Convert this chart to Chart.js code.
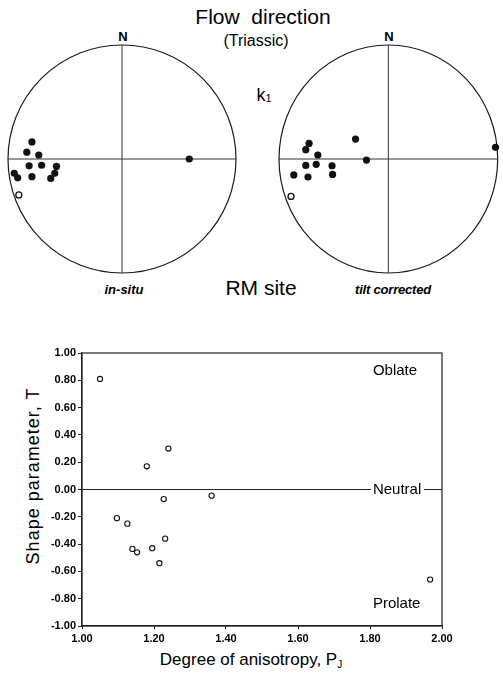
<!DOCTYPE html>
<html>
<head>
<meta charset="utf-8">
<script src="https://cdn.jsdelivr.net/npm/chart.js@4.4.1/dist/chart.umd.min.js"></script>
<style>
    body { margin: 0; background: #fff; width: 503px; height: 675px; position: relative; overflow: hidden;
           font-family: "Liberation Sans", Arial, sans-serif; color: #000; }
    .lbl { position: absolute; transform: translate(-50%, -50%); white-space: pre; line-height: 1; }
    canvas { position: absolute; }
</style>
</head>
<body>
<div class="lbl" style="left:263px; top:16px; font-size:21px;">Flow  direction</div>
<div class="lbl" style="left:256px; top:41px; font-size:16px;">(Triassic)</div>
<div class="lbl" style="left:123px; top:36px; font-size:13px; font-weight:bold;">N</div>
<div class="lbl" style="left:389px; top:36px; font-size:13px; font-weight:bold;">N</div>
<div class="lbl" style="left:264px; top:95px; font-size:18px;">k<span style="font-size:11px; vertical-align:-1px;">1</span></div>
<div class="lbl" style="left:261px; top:287px; font-size:21px;">RM site</div>
<div class="lbl" style="left:124px; top:289px; font-size:13px; font-weight:bold; font-style:italic;">in-situ</div>
<div class="lbl" style="left:393px; top:289px; font-size:13px; font-weight:bold; font-style:italic; letter-spacing:-0.2px;">tilt corrected</div>
<div class="lbl" style="left:33px; top:476px; font-size:18px; letter-spacing:1px; transform:translate(-50%, -50%) rotate(-90deg);">Shape parameter, T</div>
<div class="lbl" style="left:251px; top:660px; font-size:17px;">Degree of anisotropy, P<span style="font-size:10px; vertical-align:-3px;">J</span></div>

<canvas id="netInSitu" width="241" height="240" style="left:2px; top:39px;"></canvas>
<canvas id="netTilt" width="231" height="240" style="left:272px; top:39px;"></canvas>
<canvas id="shapeChart" width="503" height="310" style="left:0; top:340px;"></canvas>

<script>
// k1 directions, projected onto the unit stereonet (x = east, y = north)
const inSituX = [-0.79, -0.835, -0.73, -0.815, -0.705, -0.575, -0.59, -0.625, -0.79, -0.945, -0.915, 0.59];
const inSituY = [0.15, 0.06, 0.035, -0.06, -0.055, -0.065, -0.125, -0.17, -0.155, -0.125, -0.165, 0.0];
const inSituOpenX = [-0.905];
const inSituOpenY = [-0.315];

const tiltX = [-0.725, -0.755, -0.645, -0.30, -0.20, 0.98, -0.755, -0.66, -0.515, -0.51, -0.865, -0.735];
const tiltY = [0.137, 0.082, 0.035, 0.175, -0.009, 0.102, -0.056, -0.047, -0.059, -0.135, -0.14, -0.158];
const tiltOpenX = [-0.89];
const tiltOpenY = [-0.328];

// shape parameter T against degree of anisotropy Pj
const anisotropyPj = [1.05, 1.24, 1.18, 1.227, 1.36, 1.097, 1.126, 1.231, 1.14, 1.153, 1.195, 1.215, 1.967];
const shapeT = [0.81, 0.30, 0.17, -0.07, -0.045, -0.21, -0.25, -0.36, -0.435, -0.46, -0.43, -0.54, -0.66];

const xTicks = [1.0, 1.2, 1.4, 1.6, 1.8, 2.0];
const yTicks = [-1.0, -0.8, -0.6, -0.4, -0.2, 0.0, 0.2, 0.4, 0.6, 0.8, 1.0];

const zoneLabels = ['Oblate', 'Neutral', 'Prolate'];
const zoneT = [0.87, 0.0, -0.84];
const zoneLabelPj = 1.808;

const fontFamily = '"Liberation Sans", Arial, sans-serif';

function toPoints(xs, ys) {
    return xs.map((v, i) => ({ x: v, y: ys[i] }));
}

// circle and cross of the stereonet, placed through the chart scales
const netFrame = {
    id: 'netFrame',
    beforeDatasetsDraw(chart) {
        const { ctx, scales: { x, y } } = chart;
        const cx = x.getPixelForValue(0);
        const cy = y.getPixelForValue(0);
        const rx = x.getPixelForValue(1) - cx;
        const ry = cy - y.getPixelForValue(1);
        ctx.save();
        ctx.strokeStyle = '#1a1a1a';
        ctx.lineWidth = 1.2;
        ctx.beginPath();
        ctx.ellipse(cx, cy, rx, ry, 0, 0, Math.PI * 2);
        ctx.stroke();
        ctx.strokeStyle = '#333';
        ctx.lineWidth = 1;
        ctx.beginPath();
        ctx.moveTo(cx - rx, cy);
        ctx.lineTo(cx + rx, cy);
        ctx.moveTo(cx, cy - ry);
        ctx.lineTo(cx, cy + ry);
        ctx.stroke();
        ctx.restore();
    }
};

function makeNet(id, xs, ys, openXs, openYs, padding) {
    return new Chart(document.getElementById(id), {
        type: 'scatter',
        data: {
            datasets: [{
                data: toPoints(xs, ys),
                pointRadius: 3.6,
                backgroundColor: '#111',
                borderWidth: 0,
                clip: false
            }, {
                data: toPoints(openXs, openYs),
                pointRadius: 3,
                backgroundColor: '#fff',
                borderColor: '#111',
                borderWidth: 1.3,
                clip: false
            }]
        },
        options: {
            responsive: false,
            animation: false,
            layout: { padding: padding },
            scales: {
                x: { type: 'linear', min: -1, max: 1, display: false },
                y: { type: 'linear', min: -1, max: 1, display: false }
            },
            plugins: { legend: { display: false }, tooltip: { enabled: false } }
        },
        plugins: [netFrame]
    });
}

makeNet('netInSitu', inSituX, inSituY, inSituOpenX, inSituOpenY, { left: 6, right: 7, top: 6, bottom: 6 });
makeNet('netTilt', tiltX, tiltY, tiltOpenX, tiltOpenY, { left: 7, right: 2, top: 6, bottom: 6 });

// frame, neutral line and zone names for the T-Pj plot
const shapeNotes = {
    id: 'shapeNotes',
    afterDatasetsDraw(chart) {
        const { ctx, chartArea: a, scales: { x, y } } = chart;
        ctx.save();
        ctx.strokeStyle = '#222';
        ctx.lineWidth = 1.2;
        ctx.strokeRect(a.left, a.top, a.right - a.left, a.bottom - a.top);

        ctx.font = '15px ' + fontFamily;
        ctx.fillStyle = '#000';
        ctx.textAlign = 'left';
        ctx.textBaseline = 'middle';
        const nx = x.getPixelForValue(zoneLabelPj);
        zoneLabels.forEach((txt, i) => {
            const py = y.getPixelForValue(zoneT[i]);
            ctx.fillText(txt, nx, py);
            if (zoneT[i] === 0) {
                const w = ctx.measureText(txt).width;
                ctx.beginPath();
                ctx.moveTo(a.left, py);
                ctx.lineTo(nx - 2, py);
                ctx.moveTo(nx + w + 3, py);
                ctx.lineTo(a.right, py);
                ctx.stroke();
            }
        });
        ctx.restore();
    }
};

new Chart(document.getElementById('shapeChart'), {
    type: 'scatter',
    data: {
        datasets: [{
            data: toPoints(anisotropyPj, shapeT),
            pointRadius: 2.6,
            backgroundColor: '#fff',
            borderColor: '#111',
            borderWidth: 1.1
        }]
    },
    options: {
        responsive: false,
        animation: false,
        layout: { padding: { left: 0, right: 61, top: 13, bottom: 0 } },
        scales: {
            x: {
                type: 'linear',
                min: 1,
                max: 2,
                afterBuildTicks: s => { s.ticks = xTicks.map(v => ({ value: v })); },
                afterFit: s => { s.height = 24; },
                grid: { drawOnChartArea: false, tickLength: 3, color: '#222' },
                border: { color: '#222', width: 1.2 },
                ticks: {
                    padding: 3,
                    color: '#000',
                    font: { family: fontFamily, size: 11, weight: 'bold' },
                    callback: v => v.toFixed(2)
                }
            },
            y: {
                type: 'linear',
                min: -1,
                max: 1,
                afterBuildTicks: s => { s.ticks = yTicks.map(v => ({ value: v })); },
                afterFit: s => { s.width = 82; },
                grid: { drawOnChartArea: false, tickLength: 4, color: '#222' },
                border: { color: '#222', width: 1.2 },
                ticks: {
                    padding: 2,
                    color: '#000',
                    font: { family: fontFamily, size: 11, weight: 'bold' },
                    callback: v => v.toFixed(2)
                }
            }
        },
        plugins: { legend: { display: false }, tooltip: { enabled: false } }
    },
    plugins: [shapeNotes]
});
</script>
</body>
</html>
